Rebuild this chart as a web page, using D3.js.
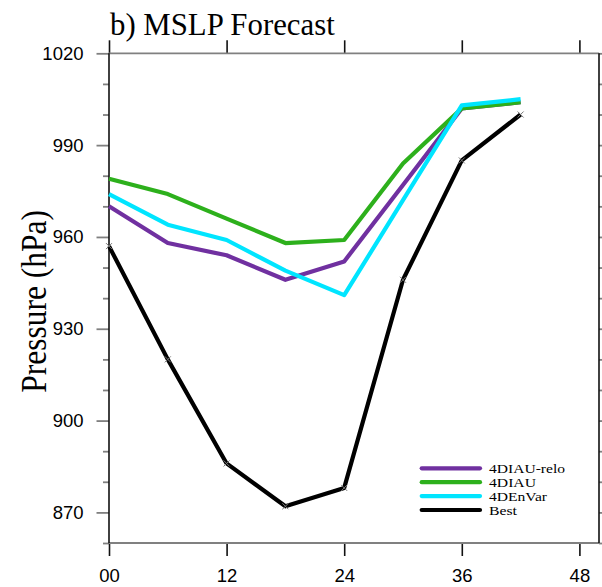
<!DOCTYPE html>
<html>
<head>
<meta charset="utf-8">
<script src="https://cdn.jsdelivr.net/npm/d3@7"></script>
<style>
  html, body { margin: 0; padding: 0; background: #fff; }
  svg { display: block; }
</style>
</head>
<body>
<svg id="chart" width="602" height="587"></svg>
<script>
// Forecast hours and minimum sea-level pressure (hPa) for each experiment
const hours = [0, 6, 12, 18, 24, 30, 36, 42];
const relo  = [970, 958, 954, 946, 952, 977, 1002, 1004];   // 4DIAU-relo
const diau  = [979, 974, 966, 958, 959, 984, 1002, 1004];   // 4DIAU
const envar = [974, 964, 959, 949, 941, 972, 1003, 1005];   // 4DEnVar
const best  = [957, 920, 886, 872, 878, 946, 985, 1000];    // Best track

const seriesNames  = ["4DIAU-relo", "4DIAU", "4DEnVar", "Best"];
const seriesColors = ["#7030A0", "#2DB01C", "#00E5FF", "#000000"];
const xTickValues  = [0, 12, 24, 36, 48];
const xTickLabels  = ["00", "12", "24", "36", "48"];
const yMajorTicks  = [870, 900, 930, 960, 990, 1020];

(function draw() {
  const svg = d3.select("#chart");
  const pLeft = 109, pRight = 599, pTop = 53.3, pBottom = 543;

  const x = d3.scaleLinear().domain([0, 50]).range([pLeft, pRight]);
  const y = d3.scaleLinear().domain([860, 1020]).range([pBottom, pTop]);

  const yMinorTicks = d3.range(860, 1021, 10).filter(v => !yMajorTicks.includes(v));

  const hColor = "#808080", vColor = "#111";

  // Minor y ticks (left and right, outward)
  svg.append("g").attr("transform", `translate(${pLeft},0)`)
    .call(d3.axisLeft(y).tickValues(yMinorTicks).tickSize(6).tickFormat(""))
    .call(g => g.select(".domain").remove())
    .call(g => g.selectAll("line").attr("stroke", hColor).attr("stroke-width", 1.8));
  svg.append("g").attr("transform", `translate(${pRight},0)`)
    .call(d3.axisRight(y).tickValues(yMinorTicks).tickSize(6).tickFormat(""))
    .call(g => g.select(".domain").remove())
    .call(g => g.selectAll("line").attr("stroke", hColor).attr("stroke-width", 1.8));

  // Major y ticks with labels
  svg.append("g").attr("transform", `translate(${pLeft},0)`)
    .call(d3.axisLeft(y).tickValues(yMajorTicks).tickSize(12.5).tickPadding(13).tickFormat(d3.format("d")))
    .call(g => g.select(".domain").remove())
    .call(g => g.selectAll("line").attr("stroke", hColor).attr("stroke-width", 1.8))
    .call(g => g.selectAll("text")
      .attr("fill", "#000")
      .style("font-family", "'Liberation Sans', Arial, sans-serif")
      .style("font-size", "18.5px"));
  svg.append("g").attr("transform", `translate(${pRight},0)`)
    .call(d3.axisRight(y).tickValues(yMajorTicks).tickSize(12.5).tickFormat(""))
    .call(g => g.select(".domain").remove())
    .call(g => g.selectAll("line").attr("stroke", hColor).attr("stroke-width", 1.8));

  // Bottom x axis with labels, top x axis ticks only
  svg.append("g").attr("transform", `translate(0,${pBottom})`)
    .call(d3.axisBottom(x).tickValues(xTickValues).tickSize(13).tickPadding(13)
      .tickFormat((d, i) => xTickLabels[i]))
    .call(g => g.select(".domain").remove())
    .call(g => g.selectAll("line").attr("stroke", vColor).attr("stroke-width", 1.6))
    .call(g => g.selectAll("text")
      .attr("fill", "#000")
      .style("font-family", "'Liberation Sans', Arial, sans-serif")
      .style("font-size", "18.5px"));
  svg.append("g").attr("transform", `translate(0,${pTop})`)
    .call(d3.axisTop(x).tickValues(xTickValues).tickSize(13).tickFormat(""))
    .call(g => g.select(".domain").remove())
    .call(g => g.selectAll("line").attr("stroke", vColor).attr("stroke-width", 1.6));

  // Plot frame
  const frame = svg.append("g");
  frame.append("line").attr("x1", pLeft).attr("x2", pRight).attr("y1", pTop).attr("y2", pTop)
    .attr("stroke", hColor).attr("stroke-width", 1.8);
  frame.append("line").attr("x1", pLeft).attr("x2", pRight).attr("y1", pBottom).attr("y2", pBottom)
    .attr("stroke", hColor).attr("stroke-width", 1.8);
  frame.append("line").attr("x1", pLeft).attr("x2", pLeft).attr("y1", pTop).attr("y2", pBottom)
    .attr("stroke", vColor).attr("stroke-width", 1.6);
  frame.append("line").attr("x1", pRight).attr("x2", pRight).attr("y1", pTop).attr("y2", pBottom)
    .attr("stroke", vColor).attr("stroke-width", 1.6);

  // Series lines
  const line = d3.line().x((d, i) => x(hours[i])).y(d => y(d));
  const allSeries = [relo, diau, envar, best];
  allSeries.forEach((vals, k) => {
    svg.append("path")
      .datum(vals)
      .attr("fill", "none")
      .attr("stroke", seriesColors[k])
      .attr("stroke-width", 4.2)
      .attr("stroke-linejoin", "round")
      .attr("d", line);
  });

  // Markers on the best-track line
  const mk = svg.append("g").attr("stroke", "#777").attr("stroke-width", 1);
  best.forEach((v, i) => {
    const cx = x(hours[i]), cy = y(v), s = 3;
    mk.append("path").attr("d", `M${cx - s},${cy - s}L${cx + s},${cy + s}M${cx - s},${cy + s}L${cx + s},${cy - s}`);
  });

  // Legend: tightly stacked entries, text widths fixed to keep a compact serif look
  const legend = svg.append("g");
  const legX1 = 421.7, legX2 = 480, legY0 = 468.3, legDy = 13.9;
  const legWidths = [76, 47, 58, 28];
  seriesNames.forEach((name, k) => {
    const ly = legY0 + k * legDy;
    legend.append("line")
      .attr("x1", legX1).attr("x2", legX2).attr("y1", ly).attr("y2", ly)
      .attr("stroke", seriesColors[k]).attr("stroke-width", 4.2).attr("stroke-linecap", "round");
    legend.append("text")
      .attr("x", 489).attr("y", ly + 4.5)
      .attr("textLength", legWidths[k])
      .attr("lengthAdjust", "spacingAndGlyphs")
      .style("font-family", "'Liberation Serif', 'Times New Roman', serif")
      .style("font-size", "12.5px")
      .attr("fill", "#000")
      .text(name);
  });

  // Title
  svg.append("text")
    .attr("x", 110).attr("y", 34.5)
    .style("font-family", "'Liberation Serif', 'Times New Roman', serif")
    .style("font-size", "30.8px")
    .attr("fill", "#000")
    .text("b) MSLP Forecast");

  // Y-axis title
  svg.append("text")
    .attr("transform", `translate(46,${(210 + 392.7) / 2}) rotate(-90) scale(1,1.12)`)
    .attr("text-anchor", "middle")
    .style("font-family", "'Liberation Serif', 'Times New Roman', serif")
    .style("font-size", "31.5px")
    .attr("fill", "#000")
    .text("Pressure (hPa)");
})();
</script>
</body>
</html>
